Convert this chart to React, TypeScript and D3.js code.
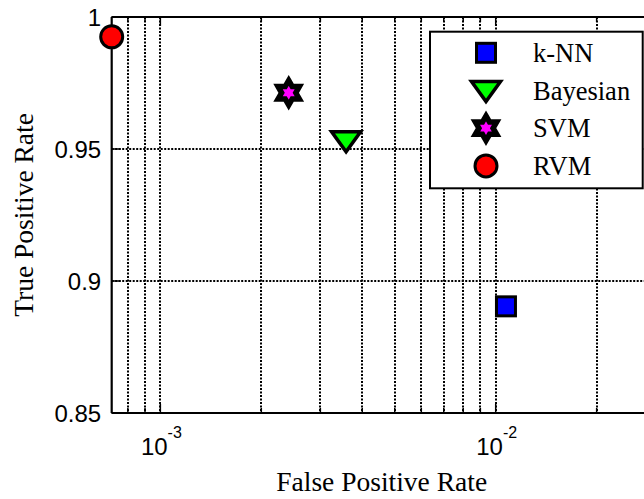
import React from "react";
import * as d3 from "d3";

const methods = ["k-NN", "Bayesian", "SVM", "RVM"];
const fpr = [1.073e-2, 3.58e-3, 2.414e-3, 7.16e-4];
const tpr = [0.8904, 0.9531, 0.9713, 0.9925];
const fills = ["#0000ff", "#00ff00", "#ff00ff", "#ff0000"];
const markers = ["square", "triangle-down", "hexagram", "circle"];
const yTicks = [0.85, 0.9, 0.95, 1];
const yTickLabels = ["0.85", "0.9", "0.95", "1"];
const xMajor = [1e-3, 1e-2];
const xMajorExp = ["-3", "-2"];
const xDomain = [7.16e-4, 3e-2];
const yDomain = [0.85, 1];

const W = 644;
const H = 499;
const L = 111.7;
const R = 655.7;
const T = 17;
const B = 413;

function markerPath(kind: string): string {
  if (kind === "triangle-down") {
    return "M-14.5,-9L14.5,-9L0,11Z";
  }
  if (kind === "hexagram") {
    const Ro = 12.3;
    const Ri = Ro / Math.sqrt(3);
    const pts: string[] = [];
    for (let i = 0; i < 12; i++) {
      const a = -Math.PI / 2 + (i * Math.PI) / 6;
      const r = i % 2 === 0 ? Ro : Ri;
      pts.push(`${(r * Math.cos(a)).toFixed(2)},${(r * Math.sin(a)).toFixed(2)}`);
    }
    return "M" + pts.join("L") + "Z";
  }
  return "";
}

function Marker({ kind, fill, x, y }: { kind: string; fill: string; x: number; y: number }) {
  if (kind === "square") {
    return <rect x={x - 9.5} y={y - 9.5} width={19} height={19} fill={fill} stroke="#000" strokeWidth={3} />;
  }
  if (kind === "circle") {
    return <circle cx={x} cy={y} r={11} fill={fill} stroke="#000" strokeWidth={3} />;
  }
  const sw = kind === "hexagram" ? 5.5 : 3.5;
  return (
    <path
      d={markerPath(kind)}
      transform={`translate(${x},${y})`}
      fill={fill}
      stroke="#000"
      strokeWidth={sw}
      strokeLinejoin="miter"
      strokeMiterlimit={10}
    />
  );
}

export default function App() {
  const x = d3.scaleLog().domain(xDomain).range([L, R]);
  const y = d3.scaleLinear().domain(yDomain).range([B, T]);
  const px = (v: number) => Math.round(x(v));
  const py = (v: number) => Math.round(y(v));

  const minor: number[] = [];
  for (let e = -4; e <= -1; e++) {
    for (let m = 1; m <= 9; m++) {
      const v = m * Math.pow(10, e);
      if (v >= xDomain[0] && v <= xDomain[1]) minor.push(v);
    }
  }

  const serif = "'Liberation Serif', 'Times New Roman', serif";
  const sans = "'Liberation Sans', Arial, sans-serif";

  const legX = 430;
  const legY = 31.7;
  const legW = 212.7;
  const legH = 156.6;
  const rowY = (i: number) => 52.8 + i * 37.7;

  return (
    <svg
      width={W}
      height={H}
      style={{ position: "absolute", left: 0, top: 0, background: "#fff" }}
    >
      <rect x={0} y={0} width={W} height={H} fill="#fff" />
      {/* grid */}
      <g stroke="#000" strokeWidth={2} strokeDasharray="2,1.5">
        {minor.map((v, i) => (
          <line key={"gx" + i} x1={px(v)} x2={px(v)} y1={T} y2={B} />
        ))}
        {yTicks.map((v, i) => (
          <line key={"gy" + i} x1={L} x2={R} y1={py(v)} y2={py(v)} />
        ))}
      </g>
      {/* ticks */}
      <g stroke="#000" strokeWidth={1.5}>
        {yTicks.map((v, i) => (
          <line key={"ty" + i} x1={L} x2={L + 9} y1={y(v)} y2={y(v)} />
        ))}
        {minor.map((v, i) => {
          const major = xMajor.some((m) => Math.abs(m - v) / m < 1e-6);
          const len = major ? 9 : 5;
          return (
            <g key={"tx" + i}>
              <line x1={x(v)} x2={x(v)} y1={B} y2={B - len} />
              <line x1={x(v)} x2={x(v)} y1={T} y2={T + len} />
            </g>
          );
        })}
      </g>
      {/* axes box */}
      <g stroke="#000" strokeWidth={2.2} fill="none">
        <line x1={L} x2={R} y1={T} y2={T} />
        <line x1={L} x2={R} y1={B} y2={B} />
        <line x1={L} x2={L} y1={T} y2={B} />
        <line x1={R} x2={R} y1={T} y2={B} />
      </g>
      {/* y tick labels */}
      {yTicks.map((v, i) => (
        <text
          key={"yl" + i}
          x={L - 10.5}
          y={y(v) + 9}
          textAnchor="end"
          fontFamily={sans}
          fontSize={24}
          fill="#000"
        >
          {yTickLabels[i]}
        </text>
      ))}
      {/* x tick labels */}
      {xMajor.map((v, i) => (
        <text
          key={"xl" + i}
          x={x(v) + 1}
          y={455}
          textAnchor="middle"
          fontFamily={sans}
          fontSize={24}
          fill="#000"
        >
          10
          <tspan dy={-17} fontSize={16}>
            {xMajorExp[i]}
          </tspan>
        </text>
      ))}
      {/* axis labels */}
      <text
        x={(L + R) / 2 - 2}
        y={491}
        textAnchor="middle"
        fontFamily={serif}
        fontSize={27.5}
        fill="#000"
      >
        False Positive Rate
      </text>
      <text
        transform={`translate(33,${(T + B) / 2}) rotate(-90)`}
        textAnchor="middle"
        fontFamily={serif}
        fontSize={27.5}
        fill="#000"
      >
        True Positive Rate
      </text>
      {/* data markers */}
      {methods.map((m, i) => (
        <Marker key={"m" + i} kind={markers[i]} fill={fills[i]} x={x(fpr[i])} y={y(tpr[i])} />
      ))}
      {/* legend */}
      <rect x={legX} y={legY} width={legW} height={legH} fill="#fff" stroke="#000" strokeWidth={2} />
      {methods.map((m, i) => (
        <g key={"lg" + i}>
          <Marker kind={markers[i]} fill={fills[i]} x={486} y={rowY(i)} />
          <text x={533} y={rowY(i) + 9} fontFamily={serif} fontSize={26.5} fill="#000">
            {m}
          </text>
        </g>
      ))}
    </svg>
  );
}
